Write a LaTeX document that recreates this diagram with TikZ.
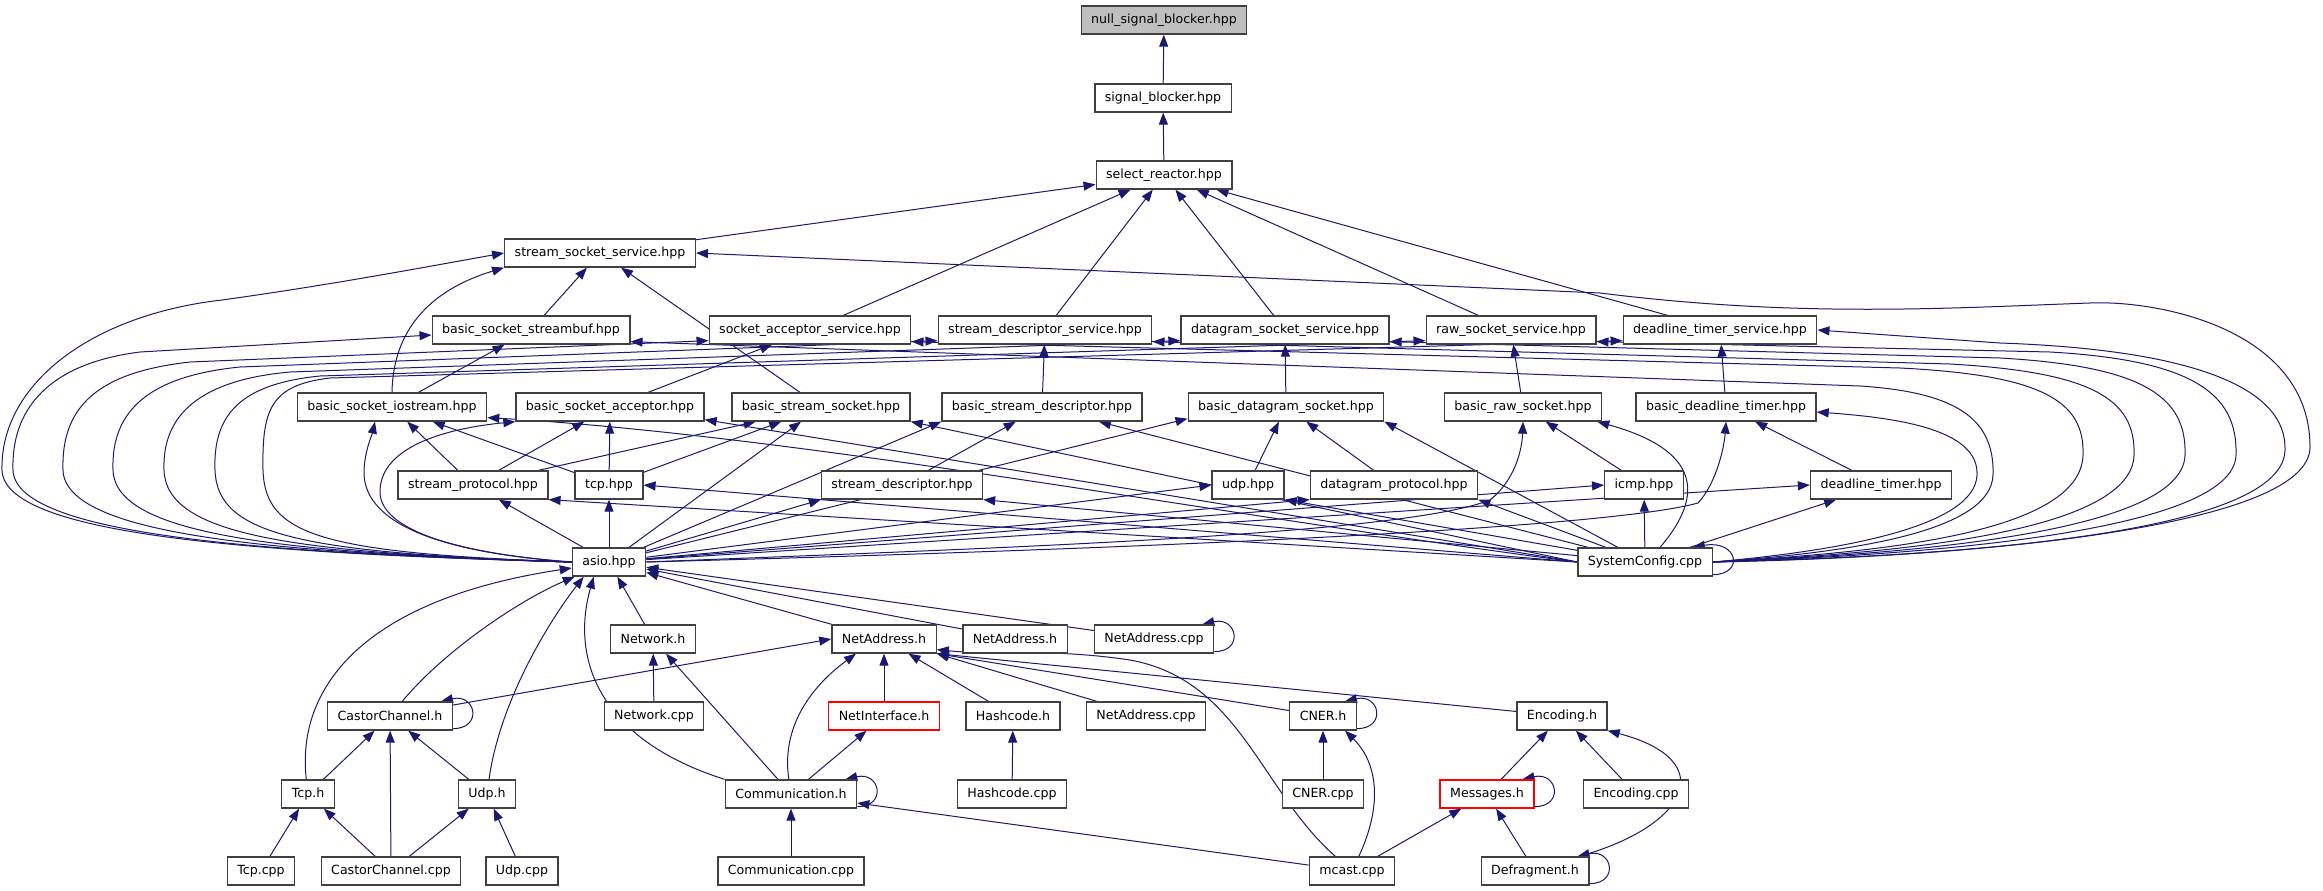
\documentclass[tikz,border=0pt]{standalone}
\usepackage{fontspec}
\setmainfont{DejaVu Sans}
\usepackage{tikz}
\usetikzlibrary{arrows.meta,backgrounds,positioning}
\definecolor{edgeblue}{HTML}{191970}
\tikzset{
  fileBox/.style={ draw=black!75, line width=1.3pt, fill=white, minimum height=28pt, inner xsep=10pt, inner ysep=0pt, font=\fontsize{12.6}{14}\selectfont }
}
\tikzset{
  fileRoot/.style={ fileBox, fill=black!25 }
}
\tikzset{
  fileRed/.style={ fileBox, draw=red }
}
\tikzset{
  incl/.style={ draw=edgeblue, line width=1pt, -{Triangle[length=12pt,width=9pt]} }
}

\begin{document}
\begin{tikzpicture}[x=1pt, y=-1pt]
        \useasboundingbox (0,0) rectangle (2323,891);
        \node[fileRoot] (nsb) at (1164, 20) {null\_signal\_blocker.hpp};
        \node[fileBox] (sigb) at (1163, 98) {signal\_blocker.hpp};
        \node[fileBox] (selr) at (1164, 175) {select\_reactor.hpp};
        \node[fileBox] (sss) at (600, 253) {stream\_socket\_service.hpp};
        \node[fileBox] (bssb) at (531, 330) {basic\_socket\_streambuf.hpp};
        \node[fileBox] (sas) at (810, 330) {socket\_acceptor\_service.hpp};
        \node[fileBox] (sds) at (1045, 330) {stream\_descriptor\_service.hpp};
        \node[fileBox] (dss) at (1285, 330) {datagram\_socket\_service.hpp};
        \node[fileBox] (rss) at (1511, 330) {raw\_socket\_service.hpp};
        \node[fileBox] (dts) at (1720, 330) {deadline\_timer\_service.hpp};
        \node[fileBox] (bsio) at (392, 407) {basic\_socket\_iostream.hpp};
        \node[fileBox] (bsa) at (610, 407) {basic\_socket\_acceptor.hpp};
        \node[fileBox] (bss) at (821, 407) {basic\_stream\_socket.hpp};
        \node[fileBox] (bsd) at (1042, 407) {basic\_stream\_descriptor.hpp};
        \node[fileBox] (bds) at (1286, 407) {basic\_datagram\_socket.hpp};
        \node[fileBox] (brs) at (1523, 407) {basic\_raw\_socket.hpp};
        \node[fileBox] (bdt) at (1726, 407) {basic\_deadline\_timer.hpp};
        \node[fileBox] (sprot) at (473, 485) {stream\_protocol.hpp};
        \node[fileBox] (tcp) at (609, 485) {tcp.hpp};
        \node[fileBox] (sdesc) at (902, 485) {stream\_descriptor.hpp};
        \node[fileBox] (udp) at (1248, 485) {udp.hpp};
        \node[fileBox] (dprot) at (1394, 485) {datagram\_protocol.hpp};
        \node[fileBox] (icmp) at (1644, 485) {icmp.hpp};
        \node[fileBox] (dtim) at (1881, 485) {deadline\_timer.hpp};
        \node[fileBox] (asio) at (609, 562) {asio.hpp};
        \node[fileBox] (syscfg) at (1645, 562) {SystemConfig.cpp};
        \node[fileBox] (neth) at (653, 639) {Network.h};
        \node[fileBox] (naddr) at (884, 639) {NetAddress.h};
        \node[fileBox] (naddrb) at (1015, 639) {NetAddress.h};
        \node[fileBox] (naddrc) at (1154, 639) {NetAddress.cpp};
        \node[fileBox] (cch) at (390, 716) {CastorChannel.h};
        \node[fileBox] (netcpp) at (654, 716) {Network.cpp};
        \node[fileRed] (nif) at (884, 716) {NetInterface.h};
        \node[fileBox] (hash) at (1013, 716) {Hashcode.h};
        \node[fileBox] (naddrcpp) at (1146, 716) {NetAddress.cpp};
        \node[fileBox] (cner) at (1323, 716) {CNER.h};
        \node[fileBox] (enc) at (1562, 716) {Encoding.h};
        \node[fileBox] (tcph) at (308, 794) {Tcp.h};
        \node[fileBox] (udph) at (487, 794) {Udp.h};
        \node[fileBox] (comm) at (791, 794) {Communication.h};
        \node[fileBox] (hashcpp) at (1012, 794) {Hashcode.cpp};
        \node[fileBox] (cnercpp) at (1323, 794) {CNER.cpp};
        \node[fileRed] (msg) at (1487, 794) {Messages.h};
        \node[fileBox] (enccpp) at (1636, 794) {Encoding.cpp};
        \node[fileBox] (tcpcpp) at (261, 871) {Tcp.cpp};
        \node[fileBox] (cccpp) at (391, 871) {CastorChannel.cpp};
        \node[fileBox] (udpcpp) at (522, 871) {Udp.cpp};
        \node[fileBox] (commcpp) at (791, 871) {Communication.cpp};
        \node[fileBox] (mcast) at (1352, 871) {mcast.cpp};
        \node[fileBox] (defrag) at (1535, 871) {Defragment.h};
        \begin{scope}[on background layer]
        \fill[white] (0,0) rectangle (2323,891);
        \draw[incl] (sigb) -- (nsb);
        \draw[incl] (selr) -- (sigb);
        \draw[incl] (sss) -- (selr);
        \draw[incl] (sas) -- (selr);
        \draw[incl] (sds) -- (selr);
        \draw[incl] (dss) -- (selr);
        \draw[incl] (rss) -- (selr);
        \draw[incl] (dts) -- (selr);
        \draw[incl] (bssb) -- (sss);
        \draw[incl] (bss) -- (sss);
        \draw[incl] (bsio.north) .. controls (393,330) and (430,290) .. (sss.south west);
        \draw[incl] (asio.west) .. controls (250,553) and (4,535) .. (2,470) .. controls (0,385) and (90,315) .. (222,300) .. controls (330,285) and (420,268) .. (sss.west);
        \draw[incl] (asio.west) .. controls (260,553) and (15,535) .. (13,470) .. controls (11,400) and (60,362) .. (140,352) -- ([yshift=-5pt]bssb.west);
        \draw[incl] (asio.west) .. controls (270,553) and (65,535) .. (63,470) .. controls (61,405) and (100,372) .. (190,362) -- ([yshift=4pt]sas.south west);
        \draw[incl] (asio.west) .. controls (280,553) and (115,535) .. (113,470) .. controls (111,410) and (150,376) .. (240,367) -- ([yshift=4pt]sds.south west);
        \draw[incl] (asio.west) .. controls (290,553) and (166,535) .. (164,470) .. controls (162,415) and (200,380) .. (290,372) -- ([yshift=4pt]dss.south west);
        \draw[incl] (asio.west) .. controls (300,553) and (217,535) .. (215,470) .. controls (213,415) and (240,384) .. (320,376) -- ([yshift=4pt]rss.south west);
        \draw[incl] (asio.west) .. controls (320,553) and (265,535) .. (263,470) .. controls (262,410) and (270,385) .. (330,378) -- ([yshift=4pt]dts.south west);
        \draw[incl] (syscfg.east) .. controls (1850,550) and (1975,525) .. (1977,475) .. controls (1979,430) and (1900,418) .. ([yshift=-5pt]bdt.east);
        \draw[incl] (syscfg.east) .. controls (1860,552) and (1991,530) .. (1993,475) .. controls (1995,415) and (1950,392) .. (1860,386) -- ([yshift=3pt]bssb.south east);
        \draw[incl] (syscfg.east) .. controls (1870,553) and (2081,535) .. (2083,455) .. controls (2085,400) and (2040,375) .. (1900,368) -- ([yshift=3pt]sas.south east);
        \draw[incl] (syscfg.east) .. controls (1880,554) and (2132,535) .. (2134,455) .. controls (2136,398) and (2090,372) .. (1950,364) -- ([yshift=3pt]sds.south east);
        \draw[incl] (syscfg.east) .. controls (1890,555) and (2183,535) .. (2185,455) .. controls (2187,395) and (2140,366) .. (2000,358) -- ([yshift=3pt]dss.south east);
        \draw[incl] (syscfg.east) .. controls (1900,556) and (2234,535) .. (2236,455) .. controls (2238,392) and (2190,360) .. (2050,352) -- ([yshift=3pt]rss.south east);
        \draw[incl] (syscfg.east) .. controls (1910,557) and (2283,540) .. (2285,450) .. controls (2287,390) and (2200,350) .. (2000,343) -- (dts.east);
        \draw[incl] (syscfg.east) .. controls (1950,558) and (2310,530) .. (2310,447) .. controls (2310,330) and (2160,300) .. (2090,303) .. controls (1950,308) and (1800,318) .. (1600,293) -- (sss.east);
        \draw[incl] (syscfg.west) .. controls (1250,520) and (800,435) .. ([yshift=4pt]bsio.south east);
        \draw[incl] (syscfg.west) -- ([yshift=2pt]bsa.south east);
        \draw[incl] (syscfg.west) -- (bss.south east);
        \draw[incl] (syscfg) -- (bsd);
        \draw[incl] (syscfg) -- (bds.south east);
        \draw[incl] ([xshift=15pt]syscfg.north) .. controls (1705,495) and (1700,450) .. ([xshift=-5pt]brs.south east);
        \draw[incl] (syscfg.west) -- (sprot.south east);
        \draw[incl] (syscfg.west) -- (tcp.east);
        \draw[incl] (syscfg) -- (sdesc.south east);
        \draw[incl] (syscfg) -- (udp.south east);
        \draw[incl] (syscfg) -- (dprot.south east);
        \draw[incl] (syscfg) -- (icmp);
        \draw[incl] (syscfg) -- (dtim);
        \draw[incl] ([yshift=2pt]syscfg.south east) .. controls +(32,0) and +(45,-8) .. ([xshift=-20pt]syscfg.north east);
        \draw[incl] (asio.west) .. controls (430,552) and (362,520) .. (364,470) .. controls (365,450) and (372,435) .. ([xshift=-17pt]bsio.south);
        \draw[incl] (asio.west) .. controls (440,552) and (378,525) .. (380,490) .. controls (382,445) and (450,428) .. (bsa.south west);
        \draw[incl] (asio) -- (bss);
        \draw[incl] (asio) -- (bsd.south west);
        \draw[incl] (asio) -- ([yshift=3pt]bds.south west);
        \draw[incl] (asio.east) .. controls (1000,548) and (1400,535) .. (1490,500) .. controls (1515,480) and (1522,450) .. (brs.south);
        \draw[incl] (asio.east) .. controls (1100,550) and (1600,530) .. (1698,503) .. controls (1715,485) and (1724,450) .. (bdt.south);
        \draw[incl] (asio) -- (sprot);
        \draw[incl] (asio) -- (tcp);
        \draw[incl] (asio) -- (sdesc.south west);
        \draw[incl] (asio) -- (udp.west);
        \draw[incl] (asio) -- (dprot.south west);
        \draw[incl] (asio) -- (icmp.west);
        \draw[incl] (asio) -- (dtim.west);
        \draw[incl] (bsio) -- (bssb);
        \draw[incl] (bsa) -- (sas);
        \draw[incl] (bsd) -- (sds);
        \draw[incl] (bds) -- (dss);
        \draw[incl] (brs) -- (rss);
        \draw[incl] (bdt) -- (dts);
        \draw[incl] (sprot) -- (bsio);
        \draw[incl] (sprot) -- (bsa);
        \draw[incl] (sprot) -- (bss);
        \draw[incl] (tcp) -- (bsio);
        \draw[incl] (tcp) -- (bsa);
        \draw[incl] (tcp) -- (bss);
        \draw[incl] (sdesc) -- (bsd);
        \draw[incl] (udp) -- (bds);
        \draw[incl] (dprot) -- (bds);
        \draw[incl] (icmp) -- (brs);
        \draw[incl] (dtim) -- (bdt);
        \draw[incl] (neth) -- (asio);
        \draw[incl] (naddr) -- (asio);
        \draw[incl] (naddrb) -- (asio);
        \draw[incl] (naddrc) -- (asio);
        \draw[incl] ([yshift=2pt]naddrc.south east) .. controls +(30,0) and +(35,-8) .. ([xshift=-12pt]naddrc.north east);
        \draw[incl] (cch) .. controls (445,650) and (520,600) .. ([xshift=3pt]asio.south west);
        \draw[incl] (tcph) .. controls (296,690) and (360,600) .. ([yshift=-6pt]asio.west);
        \draw[incl] (udph) .. controls (500,700) and (550,620) .. ([xshift=12pt]asio.south west);
        \draw[incl] (comm.north west) .. controls (600,740) and (570,660) .. ([xshift=22pt]asio.south west);
        \draw[incl] (netcpp) -- (neth);
        \draw[incl] (comm) -- (neth);
        \draw[incl] (cch) -- (naddr.west);
        \draw[incl] ([yshift=2pt]cch.south east) .. controls +(30,0) and +(35,-8) .. ([xshift=-12pt]cch.north east);
        \draw[incl] (comm) .. controls (780,720) and (820,680) .. ([xshift=-28pt]naddr.south);
        \draw[incl] (nif) -- (naddr);
        \draw[incl] (hash) -- (naddr);
        \draw[incl] (naddrcpp) -- (naddr.south east);
        \draw[incl] (cner) -- (naddr.south east);
        \draw[incl] (enc) -- (naddr.south east);
        \draw[incl] (mcast) .. controls (1260,790) and (1240,680) .. (1130,660) .. controls (1050,648) and (990,655) .. ([yshift=4pt]naddr.south east);
        \draw[incl] (comm) -- (nif);
        \draw[incl] (hashcpp) -- (hash);
        \draw[incl] (tcph) -- (cch);
        \draw[incl] (cccpp) -- (cch);
        \draw[incl] (udph) -- (cch);
        \draw[incl] (tcpcpp) -- (tcph);
        \draw[incl] (cccpp) -- (tcph);
        \draw[incl] (cccpp) -- (udph);
        \draw[incl] (udpcpp) -- (udph);
        \draw[incl] (commcpp) -- (comm);
        \draw[incl] (mcast) -- (comm);
        \draw[incl] ([yshift=2pt]comm.south east) .. controls +(30,0) and +(35,-8) .. ([xshift=-12pt]comm.north east);
        \draw[incl] (cnercpp) -- (cner);
        \draw[incl] (mcast) .. controls (1385,800) and (1375,760) .. ([xshift=22pt]cner.south);
        \draw[incl] ([yshift=2pt]cner.south east) .. controls +(30,0) and +(35,-8) .. ([xshift=-12pt]cner.north east);
        \draw[incl] (msg) -- (enc);
        \draw[incl] (enccpp) -- (enc);
        \draw[incl] ([xshift=-10pt]defrag.north east) .. controls (1690,825) and (1720,760) .. (enc.south east);
        \draw[incl] (mcast) -- (msg);
        \draw[incl] (defrag) -- (msg);
        \draw[incl] ([yshift=2pt]msg.south east) .. controls +(30,0) and +(35,-8) .. ([xshift=-12pt]msg.north east);
        \draw[incl] ([yshift=2pt]defrag.south east) .. controls +(30,0) and +(35,-8) .. ([xshift=-12pt]defrag.north east);
        \end{scope}
      \end{tikzpicture}
\end{document}
